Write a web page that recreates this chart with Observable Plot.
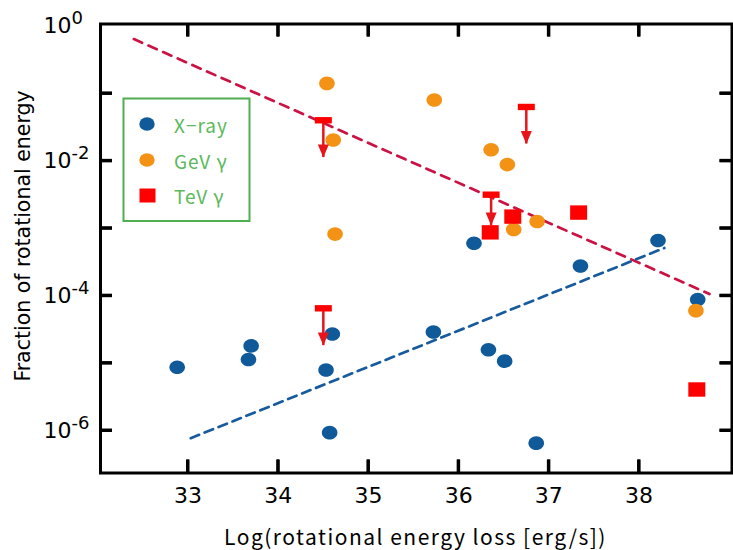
<!DOCTYPE html>
<html><head><meta charset="utf-8">
<script src="https://cdn.jsdelivr.net/npm/d3@7"></script>
<script src="https://cdn.jsdelivr.net/npm/@observablehq/plot@0.6"></script>
<style>body{margin:0;background:#fff}#chart{position:relative;width:733px;height:550px}</style>
</head><body><div id="chart"></div>
<script>
// X-ray points
const xrayX = [32.88, 33.67, 33.70, 34.53, 34.60, 34.57, 35.72, 36.33, 36.51, 36.86, 36.17, 37.35, 38.21, 38.65];
const xrayY = [8.7e-6, 1.13e-5, 1.8e-5, 7.9e-6, 2.7e-5, 9.3e-7, 2.9e-5, 1.58e-5, 1.07e-5, 6.5e-7, 6.0e-4, 2.76e-4, 6.6e-4, 8.8e-5];
// GeV gamma points
const gevX = [34.54, 34.61, 34.63, 35.73, 36.36, 36.54, 36.61, 36.87, 38.63];
const gevY = [0.141, 0.0204, 8.2e-4, 0.080, 0.0146, 0.0088, 9.6e-4, 1.26e-3, 6.0e-5];
// TeV gamma detections
const tevX = [36.60, 36.35, 37.33, 38.64];
const tevY = [1.49e-3, 8.7e-4, 1.71e-3, 4.06e-6];
// TeV gamma upper limits (bar value, arrow tip)
const ulX = [34.50, 34.50, 36.36, 36.75];
const ulY = [0.040, 6.5e-5, 3.15e-3, 0.063];
const ulTip = [0.0112, 1.82e-5, 1.1e-3, 0.0178];
// dashed trend lines
const redFitX = [32.40, 38.78];
const redFitY = [0.64, 1.06e-4];
const blueFitX = [33.03, 38.28];
const blueFitY = [7.7e-7, 5.1e-4];
// axes
const xDomain = [32.03, 39.03];
const yLogDomain = [-6.63, 0.03];
const xTicks = [33, 34, 35, 36, 37, 38];
const yTicks = [1e-1, 1e-2, 1e-3, 1e-4, 1e-5, 1e-6];
const yLabelTicks = [1, 1e-2, 1e-4, 1e-6];
const legendLabels = ["X\u2212ray", "GeV \u03b3", "TeV \u03b3"];

const BLUE = "#105a9a", ORANGE = "#f39215", RED = "#ff0000";

function ellipseSym(rx, ry) {
  const k = 0.5523;
  return {draw(c) {
    c.moveTo(rx, 0);
    c.bezierCurveTo(rx, ry * k, rx * k, ry, 0, ry);
    c.bezierCurveTo(-rx * k, ry, -rx, ry * k, -rx, 0);
    c.bezierCurveTo(-rx, -ry * k, -rx * k, -ry, 0, -ry);
    c.bezierCurveTo(rx * k, -ry, rx, -ry * k, rx, 0);
    c.closePath();
  }};
}
const dotSym = ellipseSym(7.8, 6.8);
const squareSym = {draw(c) { c.rect(-8.5, -7.2, 17, 14.4); }};
const barSym = {draw(c) { c.rect(-8.5, -3.2, 17, 6.4); }};
const headSym = {draw(c) { c.moveTo(-5.5, -13); c.lineTo(5.5, -13); c.lineTo(0, 0); c.closePath(); }};

const xray = xrayX.map((x, i) => ({x, y: xrayY[i]}));
const gev = gevX.map((x, i) => ({x, y: gevY[i]}));
const tev = tevX.map((x, i) => ({x, y: tevY[i]}));
const ul = ulX.map((x, i) => ({x, y: ulY[i], tip: ulTip[i]}));
const redFit = redFitX.map((x, i) => ({x, y: redFitY[i]}));
const blueFit = blueFitX.map((x, i) => ({x, y: blueFitY[i]}));

const W = 733, H = 550, ML = 100, MR = 1.5, MT = 23.5, MB = 77.5;
const FW = W - ML - MR, FH = H - MT - MB, TLX = 13, TLY = 12;
// tick lengths expressed in data units
const xSpan = xDomain[1] - xDomain[0], ySpan = yLogDomain[1] - yLogDomain[0];
const yB0 = 10 ** yLogDomain[0], yB1 = 10 ** (yLogDomain[0] + TLX / FH * ySpan);
const yT0 = 10 ** yLogDomain[1], yT1 = 10 ** (yLogDomain[1] - TLX / FH * ySpan);
const xL0 = xDomain[0], xL1 = xDomain[0] + TLY / FW * xSpan;
const xR0 = xDomain[1], xR1 = xDomain[1] - TLY / FW * xSpan;

const plot = Plot.plot({
  width: W, height: H,
  marginLeft: ML, marginRight: MR, marginTop: MT, marginBottom: MB,
  style: {fontFamily: "DejaVu Sans", fontSize: "22px", color: "black", background: "white"},
  x: {domain: xDomain, label: null},
  y: {type: "log", domain: [10 ** yLogDomain[0], 10 ** yLogDomain[1]], label: null},
  marks: [
    Plot.line(redFit, {x: "x", y: "y", stroke: "#cc1144", strokeWidth: 2.7, strokeDasharray: "9,7"}),
    Plot.line(blueFit, {x: "x", y: "y", stroke: "#175b9e", strokeWidth: 2.7, strokeDasharray: "9,6"}),
    Plot.dot(xray, {x: "x", y: "y", symbol: dotSym, fill: BLUE}),
    Plot.dot(gev, {x: "x", y: "y", symbol: dotSym, fill: ORANGE}),
    Plot.dot(tev, {x: "x", y: "y", symbol: squareSym, fill: RED}),
    Plot.ruleX(ul, {x: "x", y1: "y", y2: "tip", stroke: "#e8141a", strokeWidth: 2.5}),
    Plot.dot(ul, {x: "x", y: "y", symbol: barSym, fill: RED}),
    Plot.dot(ul, {x: "x", y: "tip", symbol: headSym, fill: "#e8141a"}),
    Plot.axisX(xTicks, {anchor: "bottom", tickSize: 0, tickPadding: 14, tickFormat: d => String(d)}),
    // inward tick marks on all four sides
    Plot.ruleX(xTicks, {x: d => d, y1: () => yB0, y2: () => yB1, stroke: "#000", strokeWidth: 3}),
    Plot.ruleX(xTicks, {x: d => d, y1: () => yT0, y2: () => yT1, stroke: "#000", strokeWidth: 3}),
    Plot.ruleY(yTicks, {y: d => d, x1: () => xL0, x2: () => xL1, stroke: "#000", strokeWidth: 3}),
    Plot.ruleY(yTicks, {y: d => d, x1: () => xR0, x2: () => xR1, stroke: "#000", strokeWidth: 3}),
    Plot.axisY(yLabelTicks, {anchor: "left", tickSize: 0, tickPadding: 57, textAnchor: "start",
      tickFormat: d => "10^" + Math.round(Math.log10(d))}),
    Plot.frame({stroke: "black", strokeWidth: 3})
  ]
});

document.getElementById("chart").appendChild(plot);
const svg = d3.select(plot);

// superscript exponents on y tick labels
svg.selectAll("text").each(function() {
  const t = d3.select(this);
  const s = t.text();
  const m = /^10\^(-?\d+)$/.exec(s);
  if (m) {
    t.text(null);
    t.append("tspan").text("10");
    t.append("tspan").attr("dy", -9).attr("font-size", 18).text(m[1]);
  }
});

// inward ticks also as filled bars placed through Plot's own scales
const sx = plot.scale("x"), sy = plot.scale("y");
const tg = svg.append("g").attr("fill", "#000").attr("stroke", "none");
xTicks.forEach(v => {
  const px = sx.apply(v);
  tg.append("rect").attr("x", px - 1.5).attr("y", H - MB - TLX).attr("width", 3).attr("height", TLX);
  tg.append("rect").attr("x", px - 1.5).attr("y", MT).attr("width", 3).attr("height", TLX);
});
yTicks.forEach(v => {
  const py = sy.apply(v);
  tg.append("rect").attr("x", ML).attr("y", py - 1.5).attr("width", TLY).attr("height", 3);
  tg.append("rect").attr("x", W - MR - TLY).attr("y", py - 1.5).attr("width", TLY).attr("height", 3);
});

// axis titles
svg.append("text")
  .attr("transform", "translate(22.5,236) rotate(-90)")
  .attr("text-anchor", "middle").attr("dominant-baseline", "central")
  .attr("font-family", "DejaVu Sans").attr("font-size", 20.5).attr("fill", "black")
  .text("Fraction of rotational energy");
svg.append("text")
  .attr("x", 415.5).attr("y", 536)
  .attr("text-anchor", "middle").attr("dominant-baseline", "central")
  .attr("font-family", "Noto Sans CJK JP").attr("font-size", 21).attr("letter-spacing", 1.5)
  .attr("fill", "black")
  .text("Log(rotational energy loss [erg/s])");

// legend
const lg = svg.append("g");
lg.append("rect").attr("x", 123.5).attr("y", 98.5).attr("width", 126).attr("height", 122.5)
  .attr("fill", "white").attr("stroke", "#4fae4f").attr("stroke-width", 2);
const rowsY = [124, 160, 195.5];
lg.append("ellipse").attr("cx", 147).attr("cy", rowsY[0]).attr("rx", 7.7).attr("ry", 6.8).attr("fill", BLUE);
lg.append("ellipse").attr("cx", 147).attr("cy", rowsY[1]).attr("rx", 7.7).attr("ry", 6.8).attr("fill", ORANGE);
lg.append("rect").attr("x", 139.5).attr("y", rowsY[2] - 7).attr("width", 16).attr("height", 14).attr("fill", RED);
legendLabels.forEach((s, i) => {
  lg.append("text").attr("x", 174).attr("y", rowsY[i])
    .attr("text-anchor", "start").attr("dominant-baseline", "central")
    .attr("font-family", "Noto Sans CJK JP").attr("font-size", 19).attr("letter-spacing", 1)
    .attr("fill", "#5cb85c")
    .text(s);
});
</script>
</body></html>
